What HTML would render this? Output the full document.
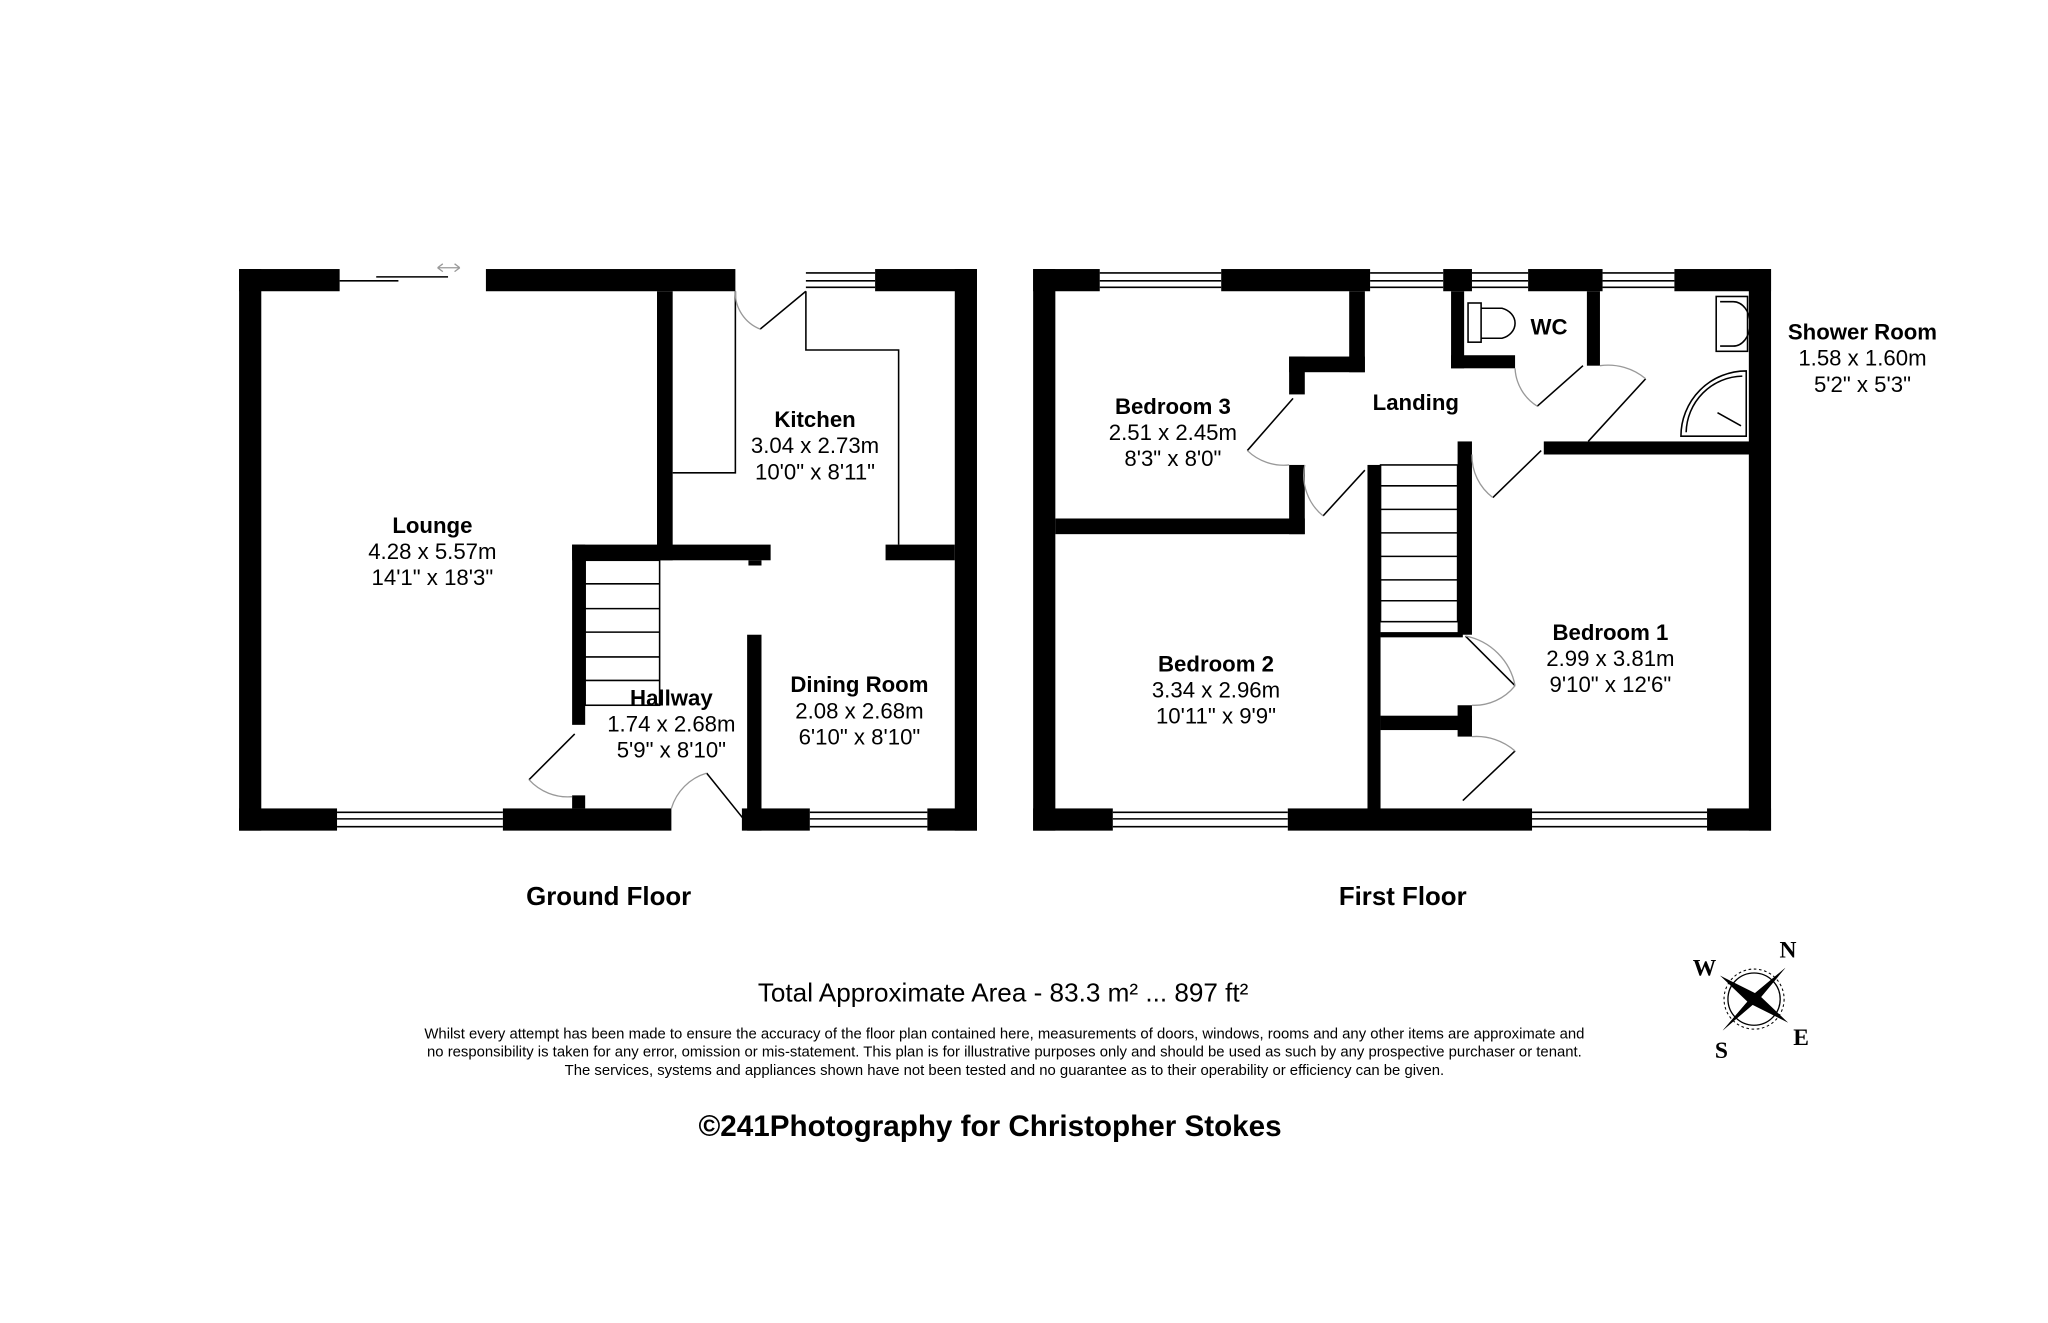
<!DOCTYPE html>
<html><head><meta charset="utf-8"><style>
html,body{margin:0;padding:0;background:#fff}
svg{display:block}
text{font-family:"Liberation Sans",Arial,sans-serif;fill:#000}
.b{font-weight:bold}
</style></head><body>
<svg width="2048" height="1323" viewBox="0 0 1568 1013" xmlns="http://www.w3.org/2000/svg">
<rect width="1568" height="1013" fill="#fff"/>
<g fill="#000">
<rect x="183" y="206" width="77" height="17"/>
<rect x="372" y="206" width="191" height="17"/>
<rect x="670" y="206" width="78" height="17"/>
<rect x="183" y="206" width="17" height="430"/>
<rect x="731" y="206" width="17" height="430"/>
<rect x="183" y="619" width="75" height="17"/>
<rect x="385" y="619" width="129" height="17"/>
<rect x="568" y="619" width="52" height="17"/>
<rect x="710" y="619" width="38" height="17"/>
<rect x="503" y="223" width="12" height="206"/>
<rect x="438" y="417" width="152" height="12"/>
<rect x="573" y="429" width="10" height="4"/>
<rect x="678" y="417" width="53" height="12"/>
<rect x="438" y="417" width="10" height="138"/>
<rect x="438" y="609" width="10" height="10"/>
<rect x="572" y="486" width="11" height="150"/>
<rect x="791" y="206" width="51" height="17"/>
<rect x="935" y="206" width="114" height="17"/>
<rect x="1105" y="206" width="22" height="17"/>
<rect x="1170" y="206" width="57" height="17"/>
<rect x="1282" y="206" width="74" height="17"/>
<rect x="791" y="206" width="17" height="430"/>
<rect x="1339" y="206" width="17" height="430"/>
<rect x="791" y="619" width="61" height="17"/>
<rect x="986" y="619" width="187" height="17"/>
<rect x="1307" y="619" width="49" height="17"/>
<rect x="1033" y="223" width="12" height="62"/>
<rect x="987" y="273" width="58" height="12"/>
<rect x="987" y="273" width="12" height="29"/>
<rect x="987" y="356" width="12" height="53"/>
<rect x="808" y="397" width="191" height="12"/>
<rect x="1111" y="223" width="10" height="59"/>
<rect x="1111" y="272" width="49" height="10"/>
<rect x="1215" y="223" width="10" height="57"/>
<rect x="1182" y="338" width="158" height="10"/>
<rect x="1047" y="356" width="10" height="264"/>
<rect x="1116" y="338" width="11" height="148"/>
<rect x="1057" y="484" width="63" height="4"/>
<rect x="1057" y="548" width="70" height="11"/>
<rect x="1116" y="540" width="11" height="24"/>
</g>
<g fill="none" stroke="#000" stroke-width="1.2">
<line x1="258" y1="622" x2="385" y2="622"/><line x1="258" y1="627" x2="385" y2="627"/><line x1="258" y1="633" x2="385" y2="633"/>
<line x1="620" y1="622" x2="710" y2="622"/><line x1="620" y1="627" x2="710" y2="627"/><line x1="620" y1="633" x2="710" y2="633"/>
<line x1="617" y1="209" x2="670" y2="209"/><line x1="617" y1="215" x2="670" y2="215"/><line x1="617" y1="220" x2="670" y2="220"/>
<line x1="260" y1="215" x2="305" y2="215"/><line x1="288" y1="212" x2="343" y2="212"/>
<polyline points="515,362 563,362 563,223"/>
<polyline points="617,223 617,268 688,268 688,417"/>
<rect x="448" y="429" width="57" height="111"/>
<line x1="448" y1="447" x2="505" y2="447"/><line x1="448" y1="466" x2="505" y2="466"/><line x1="448" y1="484" x2="505" y2="484"/><line x1="448" y1="503" x2="505" y2="503"/><line x1="448" y1="521" x2="505" y2="521"/>
<line x1="582" y1="252" x2="617" y2="223"/>
<line x1="405" y1="597" x2="440" y2="562"/>
<line x1="541" y1="592" x2="570" y2="628"/>
<line x1="842" y1="209" x2="935" y2="209"/><line x1="842" y1="215" x2="935" y2="215"/><line x1="842" y1="220" x2="935" y2="220"/>
<line x1="1049" y1="209" x2="1105" y2="209"/><line x1="1049" y1="215" x2="1105" y2="215"/><line x1="1049" y1="220" x2="1105" y2="220"/>
<line x1="1127" y1="209" x2="1170" y2="209"/><line x1="1127" y1="215" x2="1170" y2="215"/><line x1="1127" y1="220" x2="1170" y2="220"/>
<line x1="1227" y1="209" x2="1282" y2="209"/><line x1="1227" y1="215" x2="1282" y2="215"/><line x1="1227" y1="220" x2="1282" y2="220"/>
<line x1="852" y1="622" x2="986" y2="622"/><line x1="852" y1="627" x2="986" y2="627"/><line x1="852" y1="633" x2="986" y2="633"/>
<line x1="1173" y1="622" x2="1307" y2="622"/><line x1="1173" y1="627" x2="1307" y2="627"/><line x1="1173" y1="633" x2="1307" y2="633"/>
<rect x="1057" y="356" width="59" height="120"/>
<line x1="1057" y1="372" x2="1116" y2="372"/><line x1="1057" y1="390" x2="1116" y2="390"/><line x1="1057" y1="408" x2="1116" y2="408"/><line x1="1057" y1="426" x2="1116" y2="426"/><line x1="1057" y1="444" x2="1116" y2="444"/><line x1="1057" y1="460" x2="1116" y2="460"/>
<line x1="955" y1="345" x2="990" y2="305"/>
<line x1="1013" y1="395" x2="1045" y2="360"/>
<line x1="1177" y1="311" x2="1212" y2="280"/>
<line x1="1216" y1="338" x2="1260" y2="290"/>
<line x1="1143" y1="381" x2="1180" y2="345"/>
<line x1="1122" y1="487" x2="1160" y2="525"/>
<line x1="1120" y1="613" x2="1160" y2="575"/>
<rect x="1124" y="232" width="10" height="30"/>
<path d="M1134,236 L1150,236 A14,12 0 0 1 1150,259 L1134,259"/>
<rect x="1314" y="227" width="24" height="42"/>
<path d="M1317,231 L1327,231 A13,17 0 0 1 1327,265 L1317,265"/>
<path d="M1287,334 A50,50 0 0 1 1337,284 L1337,334 Z"/>
<path d="M1291,331 A44,44 0 0 1 1334,288"/>
<line x1="1315" y1="316" x2="1333" y2="326"/>
</g>
<g fill="none" stroke="#999" stroke-width="1">
<path d="M563,223 A30,30 0 0 0 582,252"/>
<path d="M405,597 A40,40 0 0 0 438,610"/>
<path d="M514,619 A40,40 0 0 1 541,592"/>
<path d="M955,345 A40,40 0 0 0 987,356"/>
<path d="M999,356 A40,40 0 0 0 1013,395"/>
<path d="M1160,282 A36,36 0 0 0 1177,311"/>
<path d="M1225,280 A45,45 0 0 1 1260,290"/>
<path d="M1127,348 A40,40 0 0 0 1143,381"/>
<path d="M1122,487 A48,48 0 0 1 1160,525 M1127,540 A40,40 0 0 0 1160,525"/>
<path d="M1127,564 A45,45 0 0 1 1160,575"/>
<path d="M335,205 L352,205 M335,205 l4,-3 M335,205 l4,3 M352,205 l-4,-3 M352,205 l-4,3"/>
</g>
<g font-size="17" text-anchor="middle">
<text x="331" y="408" class="b">Lounge</text><text x="331" y="428">4.28 x 5.57m</text><text x="331" y="448">14'1" x 18'3"</text>
<text x="624" y="327" class="b">Kitchen</text><text x="624" y="347">3.04 x 2.73m</text><text x="624" y="367">10'0" x 8'11"</text>
<text x="514" y="540" class="b">Hallway</text><text x="514" y="560">1.74 x 2.68m</text><text x="514" y="580">5'9" x 8'10"</text>
<text x="658" y="530" class="b">Dining Room</text><text x="658" y="550">2.08 x 2.68m</text><text x="658" y="570">6'10" x 8'10"</text>
<text x="898" y="317" class="b">Bedroom 3</text><text x="898" y="337">2.51 x 2.45m</text><text x="898" y="357">8'3" x 8'0"</text>
<text x="1084" y="314" class="b">Landing</text>
<text x="1186" y="256" class="b">WC</text>
<text x="1426" y="260" class="b">Shower Room</text><text x="1426" y="280">1.58 x 1.60m</text><text x="1426" y="300">5'2" x 5'3"</text>
<text x="931" y="514" class="b">Bedroom 2</text><text x="931" y="534">3.34 x 2.96m</text><text x="931" y="554">10'11" x 9'9"</text>
<text x="1233" y="490" class="b">Bedroom 1</text><text x="1233" y="510">2.99 x 3.81m</text><text x="1233" y="530">9'10" x 12'6"</text>
<text x="466" y="693" class="b" font-size="19.8">Ground Floor</text>
<text x="1074" y="693" class="b" font-size="19.8">First Floor</text>
<text x="768" y="767" font-size="20">Total Approximate Area - 83.3 m² ... 897 ft²</text>
<text x="769" y="795" font-size="11.4">Whilst every attempt has been made to ensure the accuracy of the floor plan contained here, measurements of doors, windows, rooms and any other items are approximate and</text>
<text x="769" y="809" font-size="11.4">no responsibility is taken for any error, omission or mis-statement. This plan is for illustrative purposes only and should be used as such by any prospective purchaser or tenant.</text>
<text x="769" y="823" font-size="11.4">The services, systems and appliances shown have not been tested and no guarantee as to their operability or efficiency can be given.</text>
<text x="758" y="870" class="b" font-size="22.7">©241Photography for Christopher Stokes</text>
</g>
<g transform="translate(1343,765)">
<circle r="20" fill="none" stroke="#000" stroke-width="1"/>
<circle r="23" fill="none" stroke="#000" stroke-width="0.8" stroke-dasharray="2,2"/>
<polygon points="24,-24 4,0 -24,24 0,-4" fill="#000"/>
<polygon points="24,-24 0,-4 -24,24 4,0" fill="#000"/>
<polygon points="-26,-18 -2,-4 26,18 2,4" fill="#000"/>
<polygon points="-26,-18 4,-3 26,18 -4,3" fill="#000"/>
<text x="26" y="-32" font-weight="bold" font-size="18" text-anchor="middle" style="font-family:'Liberation Serif',serif">N</text>
<text x="-38" y="-18" font-weight="bold" font-size="18" text-anchor="middle" style="font-family:'Liberation Serif',serif">W</text>
<text x="-25" y="45" font-weight="bold" font-size="18" text-anchor="middle" style="font-family:'Liberation Serif',serif">S</text>
<text x="36" y="35" font-weight="bold" font-size="18" text-anchor="middle" style="font-family:'Liberation Serif',serif">E</text>
</g>
</svg>
</body></html>
